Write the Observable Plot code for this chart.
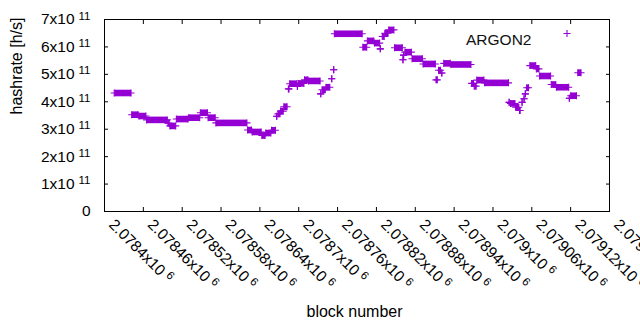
<!DOCTYPE html>
<html>
<head>
<meta charset="utf-8">
<script src="https://cdn.jsdelivr.net/npm/d3@7"></script>
<script src="https://cdn.jsdelivr.net/npm/@observablehq/plot@0.6"></script>
<style>
  html, body { margin: 0; padding: 0; background: #fff; }
  svg { display: block; }
</style>
</head>
<body>
<div id="chart"></div>
<script>
// Series: runs of consecutive blocks that reported the same hashrate (h/s)
const runStart = [2078415,2078442,2078453,2078465,2078498,2078501,2078511,2078530,2078548,2078560,2078572,2078621,2078628,2078643,2078649,2078658,2078666,2078668,2078672,2078677,2078684,2078686,2078698,2078699,2078709,2078715,2078734,2078736,2078742,2078751,2078754,2078755,2078799,2078806,2078817,2078826,2078829,2078833,2078839,2078848,2078861,2078862,2078864,2078875,2078892,2078912,2078916,2078921,2078924,2078935,2078967,2078971,2078975,2078987,2079025,2079027,2079035,2079041,2079045,2079048,2079050,2079052,2079057,2079067,2079072,2079090,2079098,2079118,2079120,2079131];
const runEnd   = [2078441,2078452,2078464,2078497,2078500,2078510,2078529,2078547,2078559,2078571,2078620,2078627,2078642,2078648,2078657,2078664,2078666,2078671,2078676,2078682,2078685,2078697,2078698,2078708,2078714,2078733,2078734,2078741,2078748,2078751,2078754,2078798,2078805,2078816,2078825,2078826,2078832,2078838,2078847,2078860,2078861,2078862,2078874,2078891,2078911,2078914,2078919,2078921,2078934,2078966,2078970,2078974,2078986,2079024,2079025,2079034,2079040,2079042,2079045,2079048,2079050,2079055,2079066,2079071,2079089,2079097,2079117,2079118,2079129,2079136];
const runHash  = [4.32e11,3.53e11,3.48e11,3.34e11,3.22e11,3.12e11,3.37e11,3.42e11,3.60e11,3.42e11,3.23e11,2.97e11,2.90e11,2.77e11,2.86e11,2.96e11,3.47e11,3.56e11,3.66e11,3.82e11,4.47e11,4.66e11,4.56e11,4.67e11,4.80e11,4.76e11,4.29e11,4.44e11,4.53e11,4.84e11,5.17e11,6.48e11,5.99e11,6.22e11,6.14e11,5.93e11,6.38e11,6.50e11,6.62e11,5.97e11,5.53e11,5.70e11,5.81e11,5.57e11,5.38e11,4.80e11,5.15e11,5.05e11,5.40e11,5.36e11,4.67e11,4.57e11,4.79e11,4.69e11,3.98e11,3.94e11,3.80e11,3.68e11,3.98e11,4.11e11,4.29e11,4.51e11,5.32e11,5.20e11,4.94e11,4.63e11,4.53e11,4.13e11,4.22e11,5.06e11];
const seriesName = "ARGON2";

// Axes
const xTicks = [2078400,2078460,2078520,2078580,2078640,2078700,2078760,2078820,2078880,2078940,2079000,2079060,2079120,2079180];
const xTickLabels = ["2.0784x10^6","2.07846x10^6","2.07852x10^6","2.07858x10^6","2.07864x10^6","2.0787x10^6","2.07876x10^6","2.07882x10^6","2.07888x10^6","2.07894x10^6","2.079x10^6","2.07906x10^6","2.07912x10^6","2.07918x10^6"];
const yTicks = [0,1e11,2e11,3e11,4e11,5e11,6e11,7e11];
const yTickLabels = ["0","1x10^11","2x10^11","3x10^11","4x10^11","5x10^11","6x10^11","7x10^11"];
const xTitle = "block number";
const yTitle = "hashrate [h/s]";

const runs = runStart.map((s, i) => ({start: s, end: runEnd[i], hash: runHash[i]}));
const color = "#9400d3";
const plusR = 2.4;

const chart = Plot.plot({
  width: 640,
  height: 330,
  marginLeft: 104,
  marginRight: 31,
  marginTop: 19,
  marginBottom: 119,
  style: {fontFamily: "'Liberation Sans', Arial, sans-serif", fontSize: "15.5px", color: "#000", background: "#fff"},
  x: {domain: [2078400, 2079180], axis: null},
  y: {domain: [0, 7e11], axis: null},
  marks: [
    // inward tick marks on all four sides
    Plot.axisY(yTicks, {anchor: "left", tickSize: 4, dx: 4, tickFormat: () => "", label: null, stroke: "#000"}),
    Plot.axisY(yTicks, {anchor: "right", tickSize: 4, dx: -4, tickFormat: () => "", label: null, stroke: "#000"}),
    Plot.axisX(xTicks, {anchor: "bottom", tickSize: 4, dy: -4, tickFormat: () => "", label: null, stroke: "#000"}),
    Plot.axisX(xTicks, {anchor: "top", tickSize: 4, dy: 4, tickFormat: () => "", label: null, stroke: "#000"}),
    Plot.frame({stroke: "#000", strokeWidth: 1}),
    // tick labels
    Plot.text(yTicks, {y: d => d, text: (d, i) => yTickLabels[i], frameAnchor: "left", dx: -14, textAnchor: "end", fill: "#000", fontSize: 15.5}),
    Plot.text(xTicks, {x: d => d, text: (d, i) => xTickLabels[i], frameAnchor: "bottom", rotate: 45, textAnchor: "start", dx: 3.5, dy: 14, fill: "#000", fontSize: 15.5}),
    // axis titles
    Plot.text([yTitle], {text: d => d, frameAnchor: "left", rotate: -90, dx: -88, dy: -1, fill: "#000", fontSize: 16}),
    Plot.text([xTitle], {text: d => d, frameAnchor: "bottom", dx: -2.5, dy: 105, fill: "#000", fontSize: 16}),
    // data: runs of identical values (dense '+' markers)
    Plot.link(runs, {x1: "start", x2: "end", y1: "hash", y2: "hash", stroke: color, strokeWidth: 6.6}),
    Plot.dot(runs, {x: "start", y: "hash", symbol: "plus", r: plusR, stroke: color, strokeWidth: 1.1}),
    Plot.dot(runs, {x: "end", y: "hash", symbol: "plus", r: plusR, stroke: color, strokeWidth: 1.1}),
    // legend
    Plot.text([seriesName], {text: d => d, frameAnchor: "top-right", dx: -78, dy: 14, textAnchor: "end", fill: "#111", fontSize: 15.5}),
    Plot.dot([seriesName], {frameAnchor: "top-right", dx: -42.5, dy: 14, symbol: "plus", r: plusR, stroke: color, strokeWidth: 1.1})
  ]
});

// render "x10^n" as superscripts
d3.select(chart).selectAll("text").each(function() {
  const t = this.textContent;
  if (t.includes("^") && this.childElementCount === 0) {
    const [base, exp] = t.split("^");
    const sel = d3.select(this);
    sel.text(base);
    sel.append("tspan").attr("dx", 4).attr("dy", "-0.42em").attr("font-size", "11.5px").text(exp);
  }
});

document.getElementById("chart").appendChild(chart);
</script>
</body>
</html>
